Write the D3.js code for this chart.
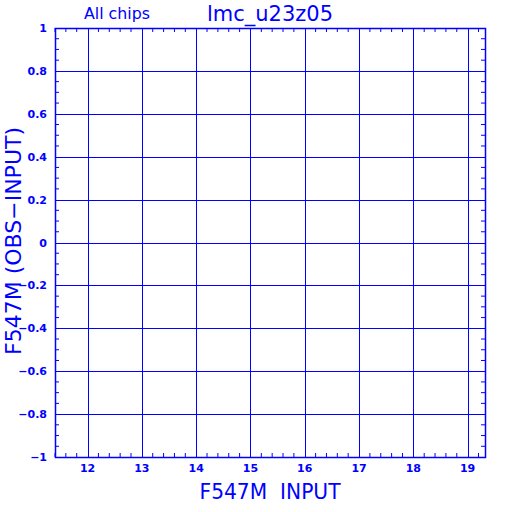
<!DOCTYPE html>
<html>
<head>
<meta charset="utf-8">
<script src="https://cdn.jsdelivr.net/npm/d3@7"></script>
<style>
  body { margin: 0; background: #fff; }
  text { fill: #0000ff; font-family: "DejaVu Sans", sans-serif; }
</style>
</head>
<body>
<div id="chart"></div>
<script>
// axis settings
var xDomain = [11.4, 19.32];
var yDomain = [-1, 1];
var xTicks = [12, 13, 14, 15, 16, 17, 18, 19];
var yTicks = [-1, -0.8, -0.6, -0.4, -0.2, 0, 0.2, 0.4, 0.6, 0.8, 1];
var yTickLabels = ["\u22121", "\u22120.8", "\u22120.6", "\u22120.4", "\u22120.2", "0", "0.2", "0.4", "0.6", "0.8", "1"];

var W = 512, H = 512;
var margin = { top: 28, right: 27, bottom: 55, left: 55 },
    width = W - margin.left - margin.right,
    height = H - margin.top - margin.bottom;

var blue = "#0000ff";

var svg = d3.select("#chart")
    .append("svg")
    .attr("width", W)
    .attr("height", H);

var g = svg.append("g")
    .attr("transform", "translate(" + margin.left + "," + margin.top + ")");

var x = d3.scaleLinear().domain(xDomain).range([0, width]);
var y = d3.scaleLinear().domain(yDomain).range([height, 0]);

// minor ticks
var xMinor = d3.range(11.4, 19.33, 0.2).map(function (d) { return +d.toFixed(1); })
    .filter(function (d) { return xTicks.indexOf(d) < 0; });
var yMinor = d3.range(-1, 1.001, 0.05).map(function (d) { return +d.toFixed(2); })
    .filter(function (d) { return Math.abs(Math.round(d * 5) - d * 5) > 0.01; });

var tl = 4;
xMinor.forEach(function (d) {
    g.append("line").attr("x1", x(d)).attr("x2", x(d)).attr("y1", height).attr("y2", height - tl)
        .attr("stroke", blue);
    g.append("line").attr("x1", x(d)).attr("x2", x(d)).attr("y1", 0).attr("y2", tl)
        .attr("stroke", blue);
});
yMinor.forEach(function (d) {
    g.append("line").attr("x1", 0).attr("x2", tl).attr("y1", y(d)).attr("y2", y(d))
        .attr("stroke", blue);
    g.append("line").attr("x1", width).attr("x2", width - tl).attr("y1", y(d)).attr("y2", y(d))
        .attr("stroke", blue);
});

// grid lines
g.selectAll(".vgrid").data(xTicks).enter().append("line")
    .attr("x1", function (d) { return Math.round(x(d)) + 0.5; })
    .attr("x2", function (d) { return Math.round(x(d)) + 0.5; })
    .attr("y1", 0).attr("y2", height)
    .attr("stroke", blue);
g.selectAll(".hgrid").data(yTicks).enter().append("line")
    .attr("x1", 0).attr("x2", width)
    .attr("y1", function (d) { return Math.round(y(d)) + 0.5; })
    .attr("y2", function (d) { return Math.round(y(d)) + 0.5; })
    .attr("stroke", blue);

// frame
g.append("rect")
    .attr("x", 0.5).attr("y", 0.5)
    .attr("width", width).attr("height", height)
    .attr("fill", "none").attr("stroke", blue).attr("stroke-width", 1.5);

// tick labels
g.selectAll(".xl").data(xTicks).enter().append("text")
    .attr("x", function (d) { return x(d); })
    .attr("y", height + 15)
    .attr("text-anchor", "middle")
    .style("font-size", "11px").style("font-weight", "bold")
    .text(function (d) { return d; });

g.selectAll(".yl").data(yTicks).enter().append("text")
    .attr("x", -8)
    .attr("y", function (d) { return y(d) + 4; })
    .attr("text-anchor", "end")
    .style("font-size", "11px").style("font-weight", "bold")
    .text(function (d, i) { return yTickLabels[i]; });

// titles
svg.append("text")
    .attr("x", 84).attr("y", 19)
    .style("font-size", "15px")
    .attr("textLength", 66).attr("lengthAdjust", "spacingAndGlyphs")
    .text("All chips");

svg.append("text")
    .attr("x", 207).attr("y", 21)
    .style("font-size", "21px")
    .attr("textLength", 126).attr("lengthAdjust", "spacingAndGlyphs")
    .text("lmc_u23z05");

svg.append("text")
    .attr("x", 270).attr("y", 499)
    .attr("text-anchor", "middle")
    .style("font-size", "21px")
    .attr("textLength", 141).attr("lengthAdjust", "spacingAndGlyphs")
    .text("F547M\u00a0\u00a0INPUT");

svg.append("text")
    .attr("transform", "translate(21,241) rotate(-90)")
    .attr("text-anchor", "middle")
    .style("font-size", "21px")
    .attr("textLength", 228).attr("lengthAdjust", "spacingAndGlyphs")
    .text("F547M (OBS\u2212INPUT)");
</script>
</body>
</html>
